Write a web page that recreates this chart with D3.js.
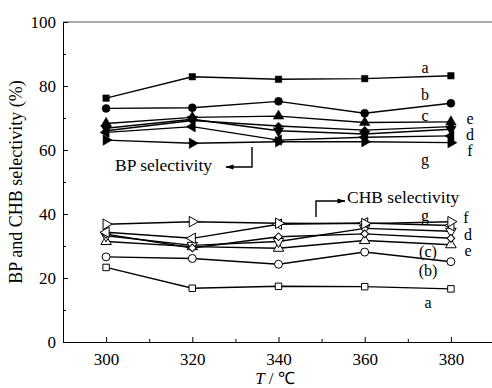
<!DOCTYPE html>
<head>
  <meta charset="utf-8">
  <script src="https://d3js.org/d3.v7.min.js"></script>
  <style type="text/css">
    body { margin:0; background:#fff; }
    text { font-family: "Liberation Serif", "Times New Roman", serif; fill:#000; }
    .line { fill:none; stroke:#000; stroke-width:1.4; }
    .axis path, .axis line { stroke:#000; stroke-width:1; }
  </style>
</head>
<body>
<script>
// temperatures (x)
var temps = [300, 320, 340, 360, 380];

// BP selectivity (filled markers)
var bpA = [76.2, 82.9, 82.1, 82.3, 83.2];
var bpB = [73.0, 73.2, 75.2, 71.5, 74.6];
var bpC = [68.3, 70.2, 70.6, 68.6, 68.8];
var bpD = [66.8, 69.6, 66.0, 65.0, 66.5];
var bpE = [66.0, 69.2, 67.5, 66.2, 67.3];
var bpF = [65.5, 67.3, 63.1, 64.0, 64.4];
var bpG = [63.1, 62.1, 62.6, 62.6, 62.3];

// CHB selectivity (open markers)
var chbA = [23.3, 16.8, 17.4, 17.3, 16.6];
var chbB = [26.6, 26.1, 24.3, 28.1, 25.1];
var chbC = [31.4, 29.8, 29.3, 31.7, 30.4];
var chbD = [33.2, 30.2, 31.4, 35.5, 34.6];
var chbE = [33.7, 29.4, 32.9, 33.8, 32.4];
var chbF = [34.3, 32.4, 36.8, 37.2, 36.4];
var chbG = [36.8, 37.6, 37.1, 37.0, 37.6];

var xTicks = [300, 320, 340, 360, 380];
var yTicks = [0, 20, 40, 60, 80, 100];

var width = 492, height = 388;
var margin = {left: 63, right: 494, top: 22, bottom: 342};

var svg = d3.select("body").append("svg")
  .attr("width", width).attr("height", height);

var x = d3.scaleLinear().domain([290, 390]).range([margin.left, margin.right]);
var y = d3.scaleLinear().domain([0, 100]).range([margin.bottom, margin.top]);

// marker shapes: [symbol, rotation, size]
var shapes = {
  a: [d3.symbolSquare, 0, 42],
  b: [d3.symbolCircle, 0, 50],
  c: [d3.symbolTriangle, 0, 48],
  d: [d3.symbolTriangle, 180, 48],
  e: [d3.symbolSquare, 45, 30],
  f: [d3.symbolTriangle, -90, 48],
  g: [d3.symbolTriangle, 90, 48]
};

var series = [
  {key:"a", vals:bpA, open:false}, {key:"b", vals:bpB, open:false},
  {key:"c", vals:bpC, open:false}, {key:"d", vals:bpD, open:false},
  {key:"e", vals:bpE, open:false}, {key:"f", vals:bpF, open:false},
  {key:"g", vals:bpG, open:false},
  {key:"a", vals:chbA, open:true}, {key:"b", vals:chbB, open:true},
  {key:"c", vals:chbC, open:true}, {key:"d", vals:chbD, open:true},
  {key:"e", vals:chbE, open:true}, {key:"f", vals:chbF, open:true},
  {key:"g", vals:chbG, open:true}
];

var line = d3.line()
  .x(function(d, i) { return x(temps[i]); })
  .y(function(d) { return y(d); });

series.forEach(function(s) {
  svg.append("path").attr("class", "line").attr("d", line(s.vals));
});
series.forEach(function(s) {
  var sh = shapes[s.key];
  svg.selectAll(null).data(s.vals).enter().append("path")
    .attr("d", d3.symbol().type(sh[0]).size(sh[2]))
    .attr("transform", function(d, i) {
      return "translate(" + x(temps[i]) + "," + y(d) + ") rotate(" + sh[1] + ")";
    })
    .attr("fill", s.open ? "#fff" : "#000")
    .attr("stroke", "#000")
    .attr("stroke-width", s.open ? 1 : 0.5);
});

// frame: top line
svg.append("line").attr("x1", margin.left).attr("x2", margin.right)
  .attr("y1", margin.top).attr("y2", margin.top)
  .attr("stroke", "#555").attr("stroke-width", 1);

// axes with inward ticks
var serif = "Liberation Serif, Times New Roman, serif";
var gx = svg.append("g").attr("class", "axis")
  .attr("transform", "translate(0," + margin.bottom + ")")
  .call(d3.axisBottom(x).tickValues(xTicks).tickSize(-5).tickSizeOuter(0).tickPadding(11));
gx.attr("font-family", serif).attr("font-size", 17);
svg.append("g").attr("class", "axis")
  .attr("transform", "translate(0," + margin.bottom + ")")
  .call(d3.axisBottom(x).tickValues([290, 310, 330, 350, 370, 390]).tickSize(-3).tickSizeOuter(0).tickFormat(""))
  .select(".domain").remove();

var gy = svg.append("g").attr("class", "axis")
  .attr("transform", "translate(" + margin.left + ",0)")
  .call(d3.axisLeft(y).tickValues(yTicks).tickSize(-5).tickSizeOuter(0).tickPadding(7));
gy.attr("font-family", serif).attr("font-size", 17);
svg.append("g").attr("class", "axis")
  .attr("transform", "translate(" + margin.left + ",0)")
  .call(d3.axisLeft(y).tickValues([10, 30, 50, 70, 90]).tickSize(-3).tickSizeOuter(0).tickFormat(""))
  .select(".domain").remove();

// axis titles
svg.append("text")
  .attr("transform", "translate(22," + ((margin.top + margin.bottom) / 2) + ") rotate(-90)")
  .attr("text-anchor", "middle")
  .style("font-size", "18px")
  .text("BP and CHB  selectivity (%)");

var xt = svg.append("text")
  .attr("x", 275).attr("y", 384)
  .attr("text-anchor", "middle")
  .style("font-size", "17px");
xt.append("tspan").style("font-style", "italic").text("T");
xt.append("tspan").text(" / ℃");

// series labels
var labels = [
  ["a", 425, 67], ["b", 425, 94], ["c", 425, 115], ["e", 470, 118], ["d", 470, 134],
  ["f", 470, 150], ["g", 425, 159],
  ["g", 425, 215], ["f", 466, 217], ["d", 468, 234], ["e", 468, 250],
  ["(c)", 428, 251], ["(b)", 428, 270], ["a", 428, 302]
];
svg.selectAll(null).data(labels).enter().append("text")
  .attr("x", function(d) { return d[1]; })
  .attr("y", function(d) { return d[2]; })
  .attr("dy", "0.35em")
  .attr("text-anchor", "middle")
  .style("font-size", "16px")
  .text(function(d) { return d[0]; });

// annotations with arrows
svg.append("defs").append("marker")
  .attr("id", "ah").attr("viewBox", "0 0 10 10").attr("refX", 9).attr("refY", 5)
  .attr("markerWidth", 6).attr("markerHeight", 6).attr("orient", "auto-start-reverse")
  .append("path").attr("d", "M0,2 L10,5 L0,8 Z").attr("fill", "#000");

svg.append("text").attr("x", 115).attr("y", 171)
  .style("font-size", "17.5px").text("BP selectivity");
svg.append("path").attr("d", "M252,147 L252,167 L226,167")
  .attr("fill", "none").attr("stroke", "#000").attr("stroke-width", 1.4)
  .attr("marker-end", "url(#ah)");

svg.append("text").attr("x", 347).attr("y", 203)
  .style("font-size", "17.5px").text("CHB selectivity");
svg.append("path").attr("d", "M316,217 L316,201 L345,201")
  .attr("fill", "none").attr("stroke", "#000").attr("stroke-width", 1.4)
  .attr("marker-end", "url(#ah)");
</script>
</body>
